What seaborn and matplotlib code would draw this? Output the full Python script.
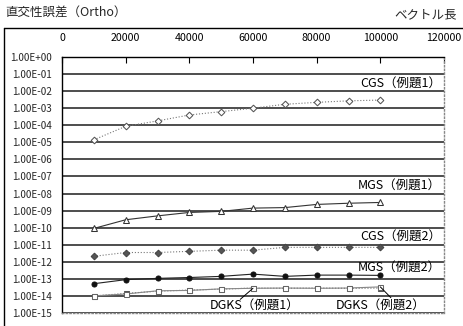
import numpy as np
import pandas as pd
import matplotlib
matplotlib.use('Agg')
import matplotlib.pyplot as plt
import seaborn as sns
from matplotlib.ticker import FuncFormatter, FixedLocator
from matplotlib.lines import Line2D

# vector length
x = [10000, 20000, 30000, 40000, 50000, 60000, 70000, 80000, 90000, 100000]

cgs1 = [1.4e-5, 8.7e-5, 1.8e-4, 4.0e-4, 6.3e-4, 1.0e-3, 1.7e-3, 2.2e-3, 2.7e-3, 3.0e-3]
mgs1 = [9.0e-11, 2.9e-10, 4.9e-10, 7.8e-10, 9.0e-10, 1.4e-9, 1.5e-9, 2.3e-9, 2.7e-9, 3.0e-9]
cgs2 = [2.1e-12, 3.5e-12, 3.5e-12, 4.1e-12, 4.8e-12, 4.8e-12, 7.0e-12, 7.0e-12, 7.0e-12, 7.0e-12]
mgs2 = [5.2e-14, 9.0e-14, 1.07e-13, 1.2e-13, 1.4e-13, 1.9e-13, 1.4e-13, 1.66e-13, 1.66e-13, 1.6e-13]
dgks1 = [1.0e-14, 1.4e-14, 1.9e-14, 2.2e-14, 2.5e-14, 2.9e-14, 2.8e-14, 2.9e-14, 2.8e-14, 2.9e-14]
dgks2 = [1.0e-14, 1.3e-14, 2.0e-14, 2.1e-14, 2.6e-14, 2.8e-14, 2.9e-14, 2.8e-14, 2.9e-14, 3.4e-14]

x_ticks = [0, 20000, 40000, 60000, 80000, 100000, 120000]
y_ticks = [10.0 ** -k for k in range(16)]

sns.set_style('white')
plt.rcParams['font.family'] = ['Noto Sans CJK JP', 'DejaVu Sans']

fig = plt.figure(figsize=(4.64, 3.26), dpi=100)
W, H = 464, 326
left, right, top, bottom = 62, 444, 57, 313
ax = fig.add_axes([left / W, 1 - bottom / H, (right - left) / W, (bottom - top) / H])

# outer chart frame
fig.add_artist(Line2D([4 / W, 4 / W], [0, 1 - 28 / H], color='black', lw=1.0))
fig.add_artist(Line2D([4 / W, 1], [1 - 28 / H, 1 - 28 / H], color='black', lw=1.0))

ax.set_yscale('log')
ax.set_xlim(0, 120000)
ax.set_ylim(1e-15, 1e0)
for v in y_ticks:
    ax.axhline(v, color='#4d4d4d', lw=1.4, zorder=1)

series = [
    (cgs1, dict(marker='D', color='#777777', ls=':', mfc='white', ms=3.4, mec='#555555')),
    (mgs1, dict(marker='^', color='#333333', ls='-', mfc='white', ms=4.2, mec='#333333')),
    (cgs2, dict(marker='D', color='#777777', ls=':', mfc='#555555', ms=3.4, mec='#444444')),
    (mgs2, dict(marker='o', color='#222222', ls='-', mfc='#111111', ms=3.6, mec='#111111')),
    (dgks1, dict(marker='s', color='#666666', ls=':', mfc='#888888', ms=3.6, mec='#555555')),
    (dgks2, dict(marker='s', color='#888888', ls='-', mfc='white', ms=3.6, mec='#666666')),
]
for vals, kw in series:
    df = pd.DataFrame({'x': x, 'y': vals})
    sns.lineplot(data=df, x='x', y='y', ax=ax, lw=0.8, zorder=3, **kw)

ax.set_xlabel('')
ax.set_ylabel('')
ax.xaxis.set_major_locator(FixedLocator(x_ticks))
ax.yaxis.set_major_locator(FixedLocator(y_ticks))
ax.yaxis.set_minor_locator(FixedLocator([]))
ax.xaxis.tick_top()
ax.xaxis.set_major_formatter(FuncFormatter(lambda v, p: f'{int(v)}'))
ax.yaxis.set_major_formatter(FuncFormatter(lambda v, p: f'{v:.2E}'))
ax.tick_params(axis='x', direction='in', length=4, width=0.8, labelsize=7.6, pad=10, colors='black')
ax.tick_params(axis='y', direction='out', length=3, width=0.8, labelsize=7.2, pad=4)

for s in ['left', 'top']:
    ax.spines[s].set_color('black')
    ax.spines[s].set_linewidth(1.0)
for s in ['right', 'bottom']:
    ax.spines[s].set_color('#888888')
    ax.spines[s].set_linestyle(':')
    ax.spines[s].set_linewidth(1.0)

lab = dict(fontsize=9, color='black', va='center', zorder=5)
ax.text(119000, 10 ** -1.61, 'CGS（例題1）', ha='right', **lab)
ax.text(119000, 10 ** -7.57, 'MGS（例題1）', ha='right', **lab)
ax.text(119000, 10 ** -10.56, 'CGS（例題2）', ha='right', **lab)
ax.text(119000, 10 ** -12.37, 'MGS（例題2）', ha='right', **lab)
ax.text(46500, 10 ** -14.6, 'DGKS（例題1）', ha='left', **lab)
ax.text(86000, 10 ** -14.6, 'DGKS（例題2）', ha='left', **lab)
ax.plot([56000, 60000], [10 ** -14.2, 10 ** -13.55], color='black', lw=0.7, zorder=4)
ax.plot([100000, 103300], [10 ** -13.47, 10 ** -14.1], color='black', lw=0.7, zorder=4)

fig.text(5 / W, 1 - 13 / H, '直交性誤差（Ortho）', fontsize=9, ha='left', va='center')
fig.text(457 / W, 1 - 15 / H, 'ベクトル長', fontsize=9, ha='right', va='center')

fig.savefig('out.png', dpi=100)
